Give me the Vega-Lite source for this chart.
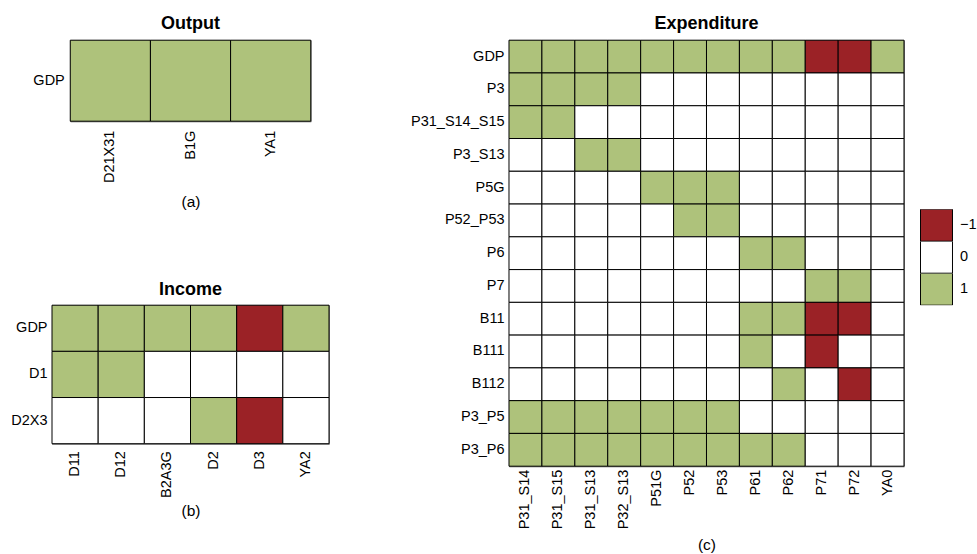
{
  "$schema": "https://vega.github.io/schema/vega-lite/v6.json",
  "padding": {"left": 10, "top": 14.2, "right": 0, "bottom": 0},
  "background": "white",
  "datasets": {
    "output": [
      {"r": "GDP", "c": "D21X31", "v": 1},
      {"r": "GDP", "c": "B1G", "v": 1},
      {"r": "GDP", "c": "YA1", "v": 1}
    ],
    "income": [
      {"r": "GDP", "c": "D11", "v": 1},
      {"r": "GDP", "c": "D12", "v": 1},
      {"r": "GDP", "c": "B2A3G", "v": 1},
      {"r": "GDP", "c": "D2", "v": 1},
      {"r": "GDP", "c": "D3", "v": -1},
      {"r": "GDP", "c": "YA2", "v": 1},
      {"r": "D1", "c": "D11", "v": 1},
      {"r": "D1", "c": "D12", "v": 1},
      {"r": "D1", "c": "B2A3G", "v": 0},
      {"r": "D1", "c": "D2", "v": 0},
      {"r": "D1", "c": "D3", "v": 0},
      {"r": "D1", "c": "YA2", "v": 0},
      {"r": "D2X3", "c": "D11", "v": 0},
      {"r": "D2X3", "c": "D12", "v": 0},
      {"r": "D2X3", "c": "B2A3G", "v": 0},
      {"r": "D2X3", "c": "D2", "v": 1},
      {"r": "D2X3", "c": "D3", "v": -1},
      {"r": "D2X3", "c": "YA2", "v": 0}
    ],
    "expenditure": [
      {"r": "GDP", "c": "P31_S14", "v": 1}, {"r": "GDP", "c": "P31_S15", "v": 1}, {"r": "GDP", "c": "P31_S13", "v": 1}, {"r": "GDP", "c": "P32_S13", "v": 1}, {"r": "GDP", "c": "P51G", "v": 1}, {"r": "GDP", "c": "P52", "v": 1}, {"r": "GDP", "c": "P53", "v": 1}, {"r": "GDP", "c": "P61", "v": 1}, {"r": "GDP", "c": "P62", "v": 1}, {"r": "GDP", "c": "P71", "v": -1}, {"r": "GDP", "c": "P72", "v": -1}, {"r": "GDP", "c": "YA0", "v": 1},
      {"r": "P3", "c": "P31_S14", "v": 1}, {"r": "P3", "c": "P31_S15", "v": 1}, {"r": "P3", "c": "P31_S13", "v": 1}, {"r": "P3", "c": "P32_S13", "v": 1}, {"r": "P3", "c": "P51G", "v": 0}, {"r": "P3", "c": "P52", "v": 0}, {"r": "P3", "c": "P53", "v": 0}, {"r": "P3", "c": "P61", "v": 0}, {"r": "P3", "c": "P62", "v": 0}, {"r": "P3", "c": "P71", "v": 0}, {"r": "P3", "c": "P72", "v": 0}, {"r": "P3", "c": "YA0", "v": 0},
      {"r": "P31_S14_S15", "c": "P31_S14", "v": 1}, {"r": "P31_S14_S15", "c": "P31_S15", "v": 1}, {"r": "P31_S14_S15", "c": "P31_S13", "v": 0}, {"r": "P31_S14_S15", "c": "P32_S13", "v": 0}, {"r": "P31_S14_S15", "c": "P51G", "v": 0}, {"r": "P31_S14_S15", "c": "P52", "v": 0}, {"r": "P31_S14_S15", "c": "P53", "v": 0}, {"r": "P31_S14_S15", "c": "P61", "v": 0}, {"r": "P31_S14_S15", "c": "P62", "v": 0}, {"r": "P31_S14_S15", "c": "P71", "v": 0}, {"r": "P31_S14_S15", "c": "P72", "v": 0}, {"r": "P31_S14_S15", "c": "YA0", "v": 0},
      {"r": "P3_S13", "c": "P31_S14", "v": 0}, {"r": "P3_S13", "c": "P31_S15", "v": 0}, {"r": "P3_S13", "c": "P31_S13", "v": 1}, {"r": "P3_S13", "c": "P32_S13", "v": 1}, {"r": "P3_S13", "c": "P51G", "v": 0}, {"r": "P3_S13", "c": "P52", "v": 0}, {"r": "P3_S13", "c": "P53", "v": 0}, {"r": "P3_S13", "c": "P61", "v": 0}, {"r": "P3_S13", "c": "P62", "v": 0}, {"r": "P3_S13", "c": "P71", "v": 0}, {"r": "P3_S13", "c": "P72", "v": 0}, {"r": "P3_S13", "c": "YA0", "v": 0},
      {"r": "P5G", "c": "P31_S14", "v": 0}, {"r": "P5G", "c": "P31_S15", "v": 0}, {"r": "P5G", "c": "P31_S13", "v": 0}, {"r": "P5G", "c": "P32_S13", "v": 0}, {"r": "P5G", "c": "P51G", "v": 1}, {"r": "P5G", "c": "P52", "v": 1}, {"r": "P5G", "c": "P53", "v": 1}, {"r": "P5G", "c": "P61", "v": 0}, {"r": "P5G", "c": "P62", "v": 0}, {"r": "P5G", "c": "P71", "v": 0}, {"r": "P5G", "c": "P72", "v": 0}, {"r": "P5G", "c": "YA0", "v": 0},
      {"r": "P52_P53", "c": "P31_S14", "v": 0}, {"r": "P52_P53", "c": "P31_S15", "v": 0}, {"r": "P52_P53", "c": "P31_S13", "v": 0}, {"r": "P52_P53", "c": "P32_S13", "v": 0}, {"r": "P52_P53", "c": "P51G", "v": 0}, {"r": "P52_P53", "c": "P52", "v": 1}, {"r": "P52_P53", "c": "P53", "v": 1}, {"r": "P52_P53", "c": "P61", "v": 0}, {"r": "P52_P53", "c": "P62", "v": 0}, {"r": "P52_P53", "c": "P71", "v": 0}, {"r": "P52_P53", "c": "P72", "v": 0}, {"r": "P52_P53", "c": "YA0", "v": 0},
      {"r": "P6", "c": "P31_S14", "v": 0}, {"r": "P6", "c": "P31_S15", "v": 0}, {"r": "P6", "c": "P31_S13", "v": 0}, {"r": "P6", "c": "P32_S13", "v": 0}, {"r": "P6", "c": "P51G", "v": 0}, {"r": "P6", "c": "P52", "v": 0}, {"r": "P6", "c": "P53", "v": 0}, {"r": "P6", "c": "P61", "v": 1}, {"r": "P6", "c": "P62", "v": 1}, {"r": "P6", "c": "P71", "v": 0}, {"r": "P6", "c": "P72", "v": 0}, {"r": "P6", "c": "YA0", "v": 0},
      {"r": "P7", "c": "P31_S14", "v": 0}, {"r": "P7", "c": "P31_S15", "v": 0}, {"r": "P7", "c": "P31_S13", "v": 0}, {"r": "P7", "c": "P32_S13", "v": 0}, {"r": "P7", "c": "P51G", "v": 0}, {"r": "P7", "c": "P52", "v": 0}, {"r": "P7", "c": "P53", "v": 0}, {"r": "P7", "c": "P61", "v": 0}, {"r": "P7", "c": "P62", "v": 0}, {"r": "P7", "c": "P71", "v": 1}, {"r": "P7", "c": "P72", "v": 1}, {"r": "P7", "c": "YA0", "v": 0},
      {"r": "B11", "c": "P31_S14", "v": 0}, {"r": "B11", "c": "P31_S15", "v": 0}, {"r": "B11", "c": "P31_S13", "v": 0}, {"r": "B11", "c": "P32_S13", "v": 0}, {"r": "B11", "c": "P51G", "v": 0}, {"r": "B11", "c": "P52", "v": 0}, {"r": "B11", "c": "P53", "v": 0}, {"r": "B11", "c": "P61", "v": 1}, {"r": "B11", "c": "P62", "v": 1}, {"r": "B11", "c": "P71", "v": -1}, {"r": "B11", "c": "P72", "v": -1}, {"r": "B11", "c": "YA0", "v": 0},
      {"r": "B111", "c": "P31_S14", "v": 0}, {"r": "B111", "c": "P31_S15", "v": 0}, {"r": "B111", "c": "P31_S13", "v": 0}, {"r": "B111", "c": "P32_S13", "v": 0}, {"r": "B111", "c": "P51G", "v": 0}, {"r": "B111", "c": "P52", "v": 0}, {"r": "B111", "c": "P53", "v": 0}, {"r": "B111", "c": "P61", "v": 1}, {"r": "B111", "c": "P62", "v": 0}, {"r": "B111", "c": "P71", "v": -1}, {"r": "B111", "c": "P72", "v": 0}, {"r": "B111", "c": "YA0", "v": 0},
      {"r": "B112", "c": "P31_S14", "v": 0}, {"r": "B112", "c": "P31_S15", "v": 0}, {"r": "B112", "c": "P31_S13", "v": 0}, {"r": "B112", "c": "P32_S13", "v": 0}, {"r": "B112", "c": "P51G", "v": 0}, {"r": "B112", "c": "P52", "v": 0}, {"r": "B112", "c": "P53", "v": 0}, {"r": "B112", "c": "P61", "v": 0}, {"r": "B112", "c": "P62", "v": 1}, {"r": "B112", "c": "P71", "v": 0}, {"r": "B112", "c": "P72", "v": -1}, {"r": "B112", "c": "YA0", "v": 0},
      {"r": "P3_P5", "c": "P31_S14", "v": 1}, {"r": "P3_P5", "c": "P31_S15", "v": 1}, {"r": "P3_P5", "c": "P31_S13", "v": 1}, {"r": "P3_P5", "c": "P32_S13", "v": 1}, {"r": "P3_P5", "c": "P51G", "v": 1}, {"r": "P3_P5", "c": "P52", "v": 1}, {"r": "P3_P5", "c": "P53", "v": 1}, {"r": "P3_P5", "c": "P61", "v": 0}, {"r": "P3_P5", "c": "P62", "v": 0}, {"r": "P3_P5", "c": "P71", "v": 0}, {"r": "P3_P5", "c": "P72", "v": 0}, {"r": "P3_P5", "c": "YA0", "v": 0},
      {"r": "P3_P6", "c": "P31_S14", "v": 1}, {"r": "P3_P6", "c": "P31_S15", "v": 1}, {"r": "P3_P6", "c": "P31_S13", "v": 1}, {"r": "P3_P6", "c": "P32_S13", "v": 1}, {"r": "P3_P6", "c": "P51G", "v": 1}, {"r": "P3_P6", "c": "P52", "v": 1}, {"r": "P3_P6", "c": "P53", "v": 1}, {"r": "P3_P6", "c": "P61", "v": 1}, {"r": "P3_P6", "c": "P62", "v": 1}, {"r": "P3_P6", "c": "P71", "v": 0}, {"r": "P3_P6", "c": "P72", "v": 0}, {"r": "P3_P6", "c": "YA0", "v": 0}
    ]
  },
  "resolve": {"scale": {"color": "shared"}, "legend": {"color": "shared"}},
  "spacing": 79,
  "hconcat": [
    {
      "resolve": {"scale": {"color": "shared"}, "legend": {"color": "shared"}},
      "spacing": 69,
      "center": true,
      "vconcat": [
        {
          "data": {"name": "output"},
          "title": {"text": "Output", "offset": 6.5},
          "width": 240.5,
          "height": 81,
          "mark": {"type": "rect", "stroke": "black", "strokeWidth": 1},
          "encoding": {
            "x": {"field": "c", "type": "nominal", "sort": ["D21X31", "B1G", "YA1"], "scale": {"paddingInner": 0, "paddingOuter": 0}, "axis": {"title": "(a)", "titlePadding": 12, "labelPadding": 9}},
            "y": {"field": "r", "type": "nominal", "sort": ["GDP"], "scale": {"paddingInner": 0, "paddingOuter": 0}, "axis": {"title": null, "labelPadding": 6}},
            "color": {"field": "v", "type": "ordinal", "scale": {"domain": [-1, 0, 1], "range": ["#9B2226", "#FFFFFF", "#AEC27B"]}, "legend": {"labelExpr": "datum.value < 0 ? '\u22121' : datum.label"}}
          }
        },
        {
          "data": {"name": "income"},
          "title": {"text": "Income", "offset": 6},
          "width": 277,
          "height": 138.5,
          "mark": {"type": "rect", "stroke": "black", "strokeWidth": 1},
          "encoding": {
            "x": {"field": "c", "type": "nominal", "sort": ["D11", "D12", "B2A3G", "D2", "D3", "YA2"], "scale": {"paddingInner": 0, "paddingOuter": 0}, "axis": {"title": "(b)", "titlePadding": 6, "labelPadding": 7}},
            "y": {"field": "r", "type": "nominal", "sort": ["GDP", "D1", "D2X3"], "scale": {"paddingInner": 0, "paddingOuter": 0}, "axis": {"title": null, "labelPadding": 5}},
            "color": {"field": "v", "type": "ordinal", "scale": {"domain": [-1, 0, 1], "range": ["#9B2226", "#FFFFFF", "#AEC27B"]}, "legend": {"labelExpr": "datum.value < 0 ? '\u22121' : datum.label"}}
          }
        }
      ]
    },
    {
      "data": {"name": "expenditure"},
      "title": {"text": "Expenditure", "offset": 6.5},
      "width": 395,
      "height": 426,
      "mark": {"type": "rect", "stroke": "black", "strokeWidth": 1},
      "encoding": {
        "x": {"field": "c", "type": "nominal", "sort": ["P31_S14", "P31_S15", "P31_S13", "P32_S13", "P51G", "P52", "P53", "P61", "P62", "P71", "P72", "YA0"], "scale": {"paddingInner": 0, "paddingOuter": 0}, "axis": {"title": "(c)", "titlePadding": 9, "labelPadding": 3}},
        "y": {"field": "r", "type": "nominal", "sort": ["GDP", "P3", "P31_S14_S15", "P3_S13", "P5G", "P52_P53", "P6", "P7", "B11", "B111", "B112", "P3_P5", "P3_P6"], "scale": {"paddingInner": 0, "paddingOuter": 0}, "axis": {"title": null, "labelPadding": 5}},
        "color": {"field": "v", "type": "ordinal", "scale": {"domain": [-1, 0, 1], "range": ["#9B2226", "#FFFFFF", "#AEC27B"]}, "legend": {"labelExpr": "datum.value < 0 ? '\u22121' : datum.label"}}
      }
    }
  ],
  "config": {
    "font": "Liberation Sans",
    "view": {"stroke": "#888888"},
    "title": {"font": "Liberation Sans", "fontSize": 18, "fontWeight": "bold", "color": "black", "baseline": "alphabetic", "anchor": "middle"},
    "axis": {
      "labelFont": "Liberation Sans",
      "labelFontSize": 14.5,
      "labelColor": "black",
      "titleFont": "Liberation Sans",
      "titleFontSize": 15.5,
      "titleFontWeight": "normal",
      "titleColor": "black",
      "ticks": false,
      "grid": false,
      "domainColor": "#888888",
      "zindex": 1
    },
    "axisX": {"labelAngle": 270, "titleBaseline": "top"},
    "legend": {
      "orient": "none",
      "legendX": 868,
      "legendY": 169,
      "title": null,
      "padding": 0,
      "symbolType": "square",
      "symbolSize": 1024,
      "symbolStrokeColor": "black",
      "symbolStrokeWidth": 1,
      "symbolOpacity": 1,
      "rowPadding": 0,
      "clipHeight": 32,
      "labelOffset": 7,
      "labelFont": "Liberation Sans",
      "labelFontSize": 14.5,
      "labelColor": "black"
    }
  }
}
